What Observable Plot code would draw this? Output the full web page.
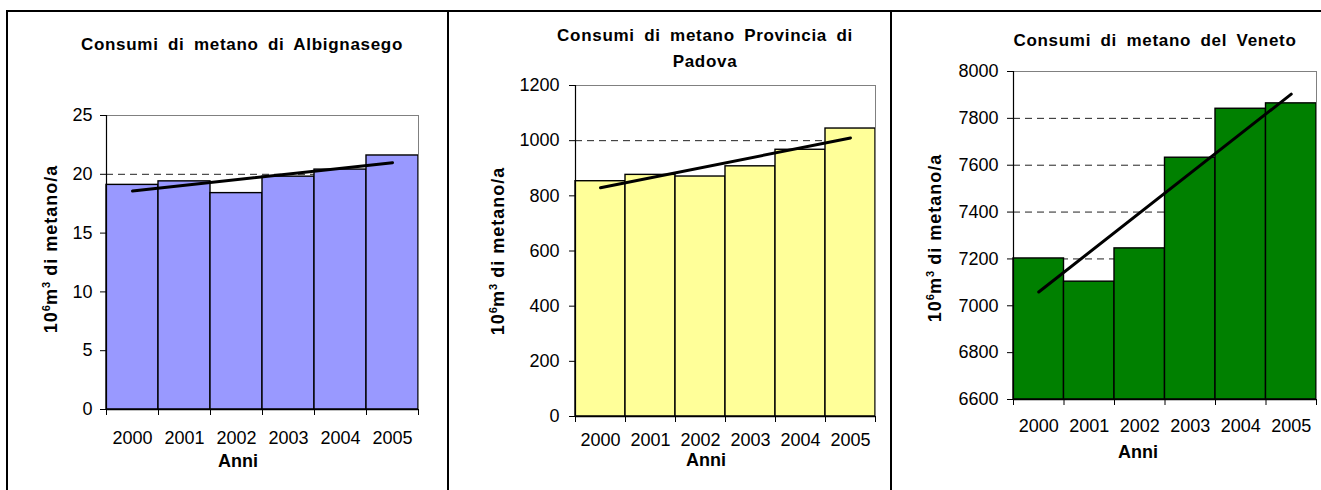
<!DOCTYPE html>
<html><head><meta charset="utf-8">
<script src="https://cdn.jsdelivr.net/npm/d3@7"></script>
<script src="https://cdn.jsdelivr.net/npm/@observablehq/plot@0.6"></script>
<style>
body{margin:0;background:#fff;}
#root{position:relative;width:1321px;height:490px;overflow:hidden;background:#fff;font-family:Arial,"Liberation Sans",sans-serif;color:#000;}
.abs{position:absolute;white-space:nowrap;line-height:1;transform:translate(-50%,-50%);}
.title{font-weight:bold;font-size:17px;letter-spacing:0.7px;word-spacing:4px;text-align:center;}
.ylab{font-weight:bold;font-size:18px;letter-spacing:1px;transform:translate(-50%,-50%) rotate(-90deg);}
.ylab sup{font-size:0.62em;line-height:0;vertical-align:super;letter-spacing:0;}
.xlab{font-weight:bold;font-size:18px;}
.bline{position:absolute;background:#000;}
.svgwrap{position:absolute;top:0;}
</style></head><body><div id="root"></div>
<script>
// ---- data ----
const years = [2000, 2001, 2002, 2003, 2004, 2005];
const albignasego = [19.1, 19.4, 18.4, 19.8, 20.4, 21.6];
const padova = [853, 876, 870, 907, 967, 1044];
const veneto = [7202, 7103, 7245, 7632, 7841, 7864];
const ticksAlbignasego = [0, 5, 10, 15, 20, 25];
const ticksPadova = [0, 200, 400, 600, 800, 1000, 1200];
const ticksVeneto = [6600, 6800, 7000, 7200, 7400, 7600, 7800, 8000];
const titleAlbignasego = ["Consumi di metano di Albignasego"];
const titlePadova = ["Consumi di metano Provincia di", "Padova"];
const titleVeneto = ["Consumi di metano del Veneto"];
const yLabelHTML = "10<sup>6</sup>m<sup>3</sup> di metano/a";
const xLabel = "Anni";
const colors = ["#9999FF", "#FFFF99", "#008000"];

const root = document.getElementById("root");
const FONT = 'Arial, "Liberation Sans", sans-serif';

function addDiv(cls, html, x, y) {
  const d = document.createElement("div");
  d.className = "abs " + cls;
  d.innerHTML = html;
  d.style.left = x + "px";
  d.style.top = y + "px";
  root.appendChild(d);
  return d;
}

function panel(cfg) {
  const rows = years.map((year, i) => ({year, value: cfg.values[i]}));
  const yMin = cfg.ticks[0], yMax = cfg.ticks[cfg.ticks.length - 1];
  const xLo = years[0] - 0.5, xHi = years[years.length - 1] + 0.5;
  const bounds = [...years.map(y => y - 0.5), xHi];
  const plot = Plot.plot({
    width: cfg.width,
    height: 490,
    marginLeft: cfg.fx0 - cfg.left,
    marginRight: cfg.left + cfg.width - cfg.fx1,
    marginTop: cfg.fy0,
    marginBottom: 490 - cfg.fy1,
    style: {fontFamily: FONT, fontSize: "18px", color: "#000", background: "transparent", overflow: "visible"},
    x: {type: "linear", domain: [xLo, xHi]},
    y: {type: "linear", domain: [yMin, yMax]},
    marks: [
      Plot.ruleY(cfg.ticks.slice(1, -1), {stroke: "#222", strokeDasharray: "7,5", strokeWidth: 1}),
      Plot.rectY(rows, {x1: d => d.year - 0.5, x2: d => d.year + 0.5, y1: yMin, y2: "value", fill: cfg.color, stroke: "#000", strokeWidth: 1.4}),
      Plot.linearRegressionY(rows, {x: "year", y: "value", stroke: "#000", strokeWidth: 3, ci: 0}),
      Plot.ruleY([yMax], {stroke: "#808080", strokeWidth: 1}),
      Plot.ruleX([xHi], {stroke: "#808080", strokeWidth: 1}),
      Plot.ruleX([xLo], {stroke: "#000", strokeWidth: 1.2}),
      Plot.ruleY([yMin], {stroke: "#000", strokeWidth: 1.5}),
      Plot.ruleX(bounds, {y1: yMin, y2: yMin, insetBottom: -6, stroke: "#000", strokeWidth: 1}),
      Plot.axisY({ticks: cfg.ticks, tickSize: 6, tickPadding: cfg.ytp, tickFormat: d => String(d), label: null, stroke: "#000"}),
      Plot.axisX({ticks: years, tickSize: 0, tickPadding: cfg.xtp, tickFormat: d => String(d), label: null})
    ]
  });
  const wrap = document.createElement("div");
  wrap.className = "svgwrap";
  wrap.style.left = cfg.left + "px";
  wrap.appendChild(plot);
  root.appendChild(wrap);

  addDiv("title", cfg.title.join("<br>"), cfg.titleX, cfg.titleY).style.lineHeight = cfg.titleLH || "1";
  addDiv("ylab", yLabelHTML, cfg.ylabX, cfg.ylabY);
  addDiv("xlab", xLabel, cfg.xlabX, cfg.xlabY);
}

panel({left: 0, width: 446, fx0: 106, fx1: 418, fy0: 115, fy1: 409,
  values: albignasego, ticks: ticksAlbignasego, color: colors[0], ytp: 8, xtp: 22,
  title: titleAlbignasego, titleX: 242, titleY: 44, ylabX: 51, ylabY: 249, xlabX: 238, xlabY: 461});
panel({left: 450, width: 440, fx0: 575, fx1: 875, fy0: 85, fy1: 416,
  values: padova, ticks: ticksPadova, color: colors[1], ytp: 10, xtp: 17,
  title: titlePadova, titleX: 705, titleY: 49, titleLH: "26px", ylabX: 498, ylabY: 251, xlabX: 706, xlabY: 460});
panel({left: 893, width: 428, fx0: 1013, fx1: 1316, fy0: 71, fy1: 399,
  values: veneto, ticks: ticksVeneto, color: colors[2], ytp: 9, xtp: 20,
  title: titleVeneto, titleX: 1155, titleY: 40, ylabX: 935, ylabY: 238, xlabX: 1138, xlabY: 452});

// table borders
function bline(x, y, w, h) {
  const d = document.createElement("div");
  d.className = "bline";
  Object.assign(d.style, {left: x + "px", top: y + "px", width: w + "px", height: h + "px"});
  root.appendChild(d);
}
bline(6, 10, 1315, 2);
bline(6, 10, 2, 480);
bline(447, 10, 2, 480);
bline(890, 10, 2, 480);
</script>
</body></html>
